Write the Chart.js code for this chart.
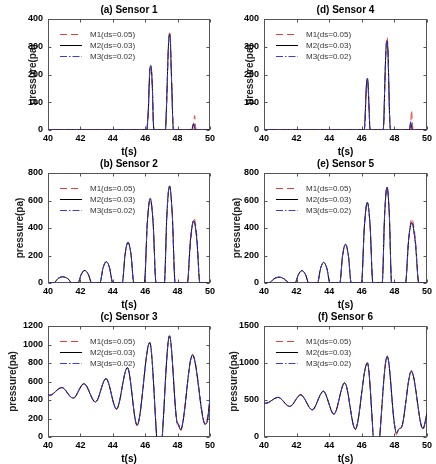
<!DOCTYPE html>
<html>
<head>
<meta charset="utf-8">
<script src="https://cdn.jsdelivr.net/npm/chart.js@4.4.1/dist/chart.umd.min.js"></script>
<style>
  body { margin: 0; background: #fff; }
  #wrap { position: relative; width: 436px; height: 464px; overflow: hidden; background: #fff; }
  canvas { position: absolute; }
</style>
</head>
<body>
<div id="wrap"></div>
<script>
// (a) Sensor 1
const tA = [40, 46.1, 46.15, 46.2, 46.25, 46.3, 46.35, 46.4, 46.45, 46.5, 46.55, 47.25, 47.3, 47.35, 47.4, 47.45, 47.5, 47.55, 47.6, 47.65, 47.7, 47.75, 48.85, 48.9, 48.95, 49.0, 49.05, 49.1, 49.15, 50];
const aM1 = [0, 0, 20, 70, 160, 218, 228, 210, 150, 40, 0, 0, 50, 130, 240, 315, 350, 335, 240, 150, 50, 0, 0, 0, 8, 25, 52, 20, 0, 0];
const aM2 = [0, 0, 30, 80, 170, 225, 232, 205, 140, 30, 0, 0, 60, 150, 250, 320, 345, 330, 230, 140, 40, 0, 0, 5, 18, 22, 10, 0, 0, 0];
const aM3 = [0, 0, 35, 85, 175, 228, 230, 200, 135, 25, 0, 0, 65, 155, 255, 325, 343, 325, 225, 135, 35, 0, 0, 6, 20, 22, 8, 0, 0, 0];

// (b) Sensor 2
const tB = [40, 40.35, 40.62, 40.9, 41.22, 41.5, 41.85, 42.06, 42.27, 42.48, 42.7, 43.2, 43.4, 43.6, 43.8, 44.0, 44.58, 44.76, 44.94, 45.12, 45.3, 45.95, 46.13, 46.31, 46.49, 46.67, 47.18, 47.34, 47.5, 47.67, 47.85, 48.6, 48.8, 49.0, 49.19, 49.38, 50];
const bM1 = [0, 0, 32, 45, 32, 0, 0, 62, 90, 66, 0, 0, 108, 155, 112, 0, 0, 205, 295, 214, 0, 0, 430, 612, 440, 0, 0, 495, 708, 505, 0, 0, 290, 472, 345, 0, 0];
const bM2 = [0, 0, 32, 45, 32, 0, 0, 65, 92, 65, 0, 0, 110, 155, 110, 0, 0, 210, 296, 210, 0, 0, 435, 615, 435, 0, 0, 500, 706, 500, 0, 0, 322, 452, 312, 0, 0];
const bM3 = [0, 0, 33, 46, 31, 0, 0, 66, 93, 64, 0, 0, 111, 156, 109, 0, 0, 212, 297, 208, 0, 0, 438, 614, 432, 0, 0, 502, 705, 498, 0, 0, 325, 450, 308, 0, 0];

// (c) Sensor 3
const tC = [40, 40.1, 40.85, 41.55, 42.22, 42.93, 43.58, 44.23, 44.9, 45.5, 46.28, 46.88, 47.5, 47.95, 48.05, 48.18, 48.92, 49.6, 49.7, 49.8, 50];
const cM1 = [470, 455, 532, 415, 580, 372, 630, 298, 748, 122, 1018, -250, 1090, 160, 120, 65, 895, 190, 130, 165, 400];
const cM2 = [458, 450, 535, 420, 576, 378, 632, 303, 750, 128, 1022, -260, 1094, 175, 140, 78, 886, 175, 140, 150, 410];
const cM3 = [455, 448, 536, 421, 577, 379, 633, 304, 751, 130, 1024, -262, 1095, 178, 142, 80, 884, 172, 142, 148, 412];

// (d) Sensor 4
const tD = [40, 46.15, 46.2, 46.25, 46.3, 46.35, 46.4, 46.45, 46.5, 46.55, 47.3, 47.35, 47.4, 47.45, 47.5, 47.55, 47.6, 47.65, 47.7, 47.75, 47.8, 48.9, 48.95, 49.0, 49.05, 49.1, 49.15, 50];
const dM1 = [0, 0, 30, 110, 170, 182, 150, 80, 10, 0, 0, 20, 120, 230, 310, 335, 300, 190, 70, 10, 0, 0, 0, 20, 70, 30, 0, 0];
const dM2 = [0, 0, 40, 120, 175, 186, 145, 70, 5, 0, 0, 30, 140, 240, 305, 320, 290, 180, 60, 5, 0, 0, 8, 28, 15, 0, 0, 0];
const dM3 = [0, 0, 45, 125, 178, 184, 140, 65, 5, 0, 0, 35, 145, 245, 310, 318, 285, 175, 55, 5, 0, 0, 10, 30, 12, 0, 0, 0];

// (e) Sensor 5
const tE = [40, 40.3, 40.61, 40.92, 41.24, 41.55, 41.9, 42.12, 42.33, 42.54, 42.75, 43.28, 43.47, 43.66, 43.86, 44.05, 44.65, 44.82, 45.0, 45.18, 45.35, 45.98, 46.16, 46.34, 46.51, 46.68, 47.25, 47.4, 47.55, 47.69, 47.83, 48.68, 48.87, 49.06, 49.28, 49.5, 50];
const eM1 = [0, 0, 30, 42, 30, 0, 0, 62, 90, 64, 0, 0, 104, 150, 106, 0, 0, 196, 280, 200, 0, 0, 412, 586, 418, 0, 0, 490, 700, 495, 0, 0, 300, 468, 330, 0, 0];
const eM2 = [0, 0, 30, 42, 30, 0, 0, 64, 90, 63, 0, 0, 106, 150, 105, 0, 0, 199, 281, 197, 0, 0, 415, 587, 414, 0, 0, 494, 698, 490, 0, 0, 310, 440, 300, 0, 0];
const eM3 = [0, 0, 31, 43, 29, 0, 0, 65, 91, 62, 0, 0, 107, 151, 104, 0, 0, 201, 282, 195, 0, 0, 418, 585, 410, 0, 0, 496, 697, 488, 0, 0, 314, 438, 296, 0, 0];

// (f) Sensor 6
const tF = [40, 40.1, 40.86, 41.58, 42.25, 42.96, 43.64, 44.29, 44.95, 45.6, 46.34, 46.88, 47.56, 48.0, 48.12, 48.3, 48.42, 49.04, 49.75, 50];
const fM1 = [470, 458, 534, 410, 575, 365, 620, 305, 735, 100, 1005, -340, 1085, 160, 30, 110, 120, 900, 100, 320];
const fM2 = [462, 455, 536, 413, 569, 368, 618, 310, 732, 105, 1000, -350, 1091, 180, 55, 115, 125, 887, 113, 323];
const fM3 = [460, 453, 537, 414, 570, 369, 619, 311, 733, 107, 1002, -352, 1093, 183, 58, 113, 124, 885, 115, 326];

const seriesLabels = ['M1(ds=0.05)', 'M2(ds=0.03)', 'M3(ds=0.02)'];
const xTicks = [40, 42, 44, 46, 48, 50];

const FONT = '"Liberation Sans", Arial, sans-serif';

// titleX = centre of the rotated y label, measured from the canvas left
const panels = [
  { title: '(a) Sensor 1', t: tA, m: [aM1, aM2, aM3], ymax: 400, ystep: 100, left: 0, top: 0, h: 157, axisW: 48, padR: 6, titleX: 33 },
  { title: '(b) Sensor 2', t: tB, m: [bM1, bM2, bM3], ymax: 800, ystep: 200, left: 0, top: 154, h: 156, axisW: 48, padR: 6, titleX: 20 },
  { title: '(c) Sensor 3', t: tC, m: [cM1, cM2, cM3], ymax: 1200, ystep: 200, left: 0, top: 307, h: 157, axisW: 48, padR: 6, titleX: 13 },
  { title: '(d) Sensor 4', t: tD, m: [dM1, dM2, dM3], ymax: 400, ystep: 100, left: 218, top: 0, h: 157, axisW: 46, padR: 9, titleX: 32 },
  { title: '(e) Sensor 5', t: tE, m: [eM1, eM2, eM3], ymax: 800, ystep: 200, left: 218, top: 154, h: 156, axisW: 46, padR: 9, titleX: 19 },
  { title: '(f) Sensor 6', t: tF, m: [fM1, fM2, fM3], ymax: 1500, ystep: 500, left: 218, top: 307, h: 157, axisW: 46, padR: 9, titleX: 16 }
];

const styles = [
  { color: '#e63c3c', dash: [7, 4], order: 3 },
  { color: '#000000', dash: [], order: 2 },
  { color: '#3c3cdc', dash: [7, 2, 1.5, 2], order: 1 }
];

// box + inward ticks like matlab axes
const frame = {
  id: 'frame',
  beforeDatasetsDraw(chart) {
    const ctx = chart.ctx, a = chart.chartArea;
    const xs = chart.scales.x, ys = chart.scales.y;
    const L = Math.round(a.left) + 0.5, R = Math.round(a.right) - 0.5;
    const T = Math.round(a.top) + 0.5, B = Math.round(a.bottom) - 0.5;
    ctx.save();
    ctx.strokeStyle = '#555';
    ctx.lineWidth = 1;
    ctx.strokeRect(L, T, R - L, B - T);
    ctx.beginPath();
    xs.ticks.forEach(tk => {
      const x = Math.round(xs.getPixelForValue(tk.value)) + 0.5;
      ctx.moveTo(x, B); ctx.lineTo(x, B - 3);
      ctx.moveTo(x, T); ctx.lineTo(x, T + 3);
    });
    ys.ticks.forEach(tk => {
      const y = Math.round(ys.getPixelForValue(tk.value)) + 0.5;
      ctx.moveTo(L, y); ctx.lineTo(L + 3, y);
      ctx.moveTo(R, y); ctx.lineTo(R - 3, y);
    });
    ctx.stroke();
    ctx.restore();
  }
};

// legend inside the plot, top left
const innerLegend = {
  id: 'innerLegend',
  afterDatasetsDraw(chart) {
    const ctx = chart.ctx, a = chart.chartArea;
    const rows = [15, 26, 37];
    ctx.save();
    chart.data.datasets.forEach((ds, i) => {
      const y = Math.round(a.top + rows[i]) + 0.5;
      ctx.beginPath();
      ctx.setLineDash(ds.borderDash);
      ctx.strokeStyle = ds.borderColor;
      ctx.lineWidth = 1;
      ctx.moveTo(a.left + 12, y);
      ctx.lineTo(a.left + 34, y);
      ctx.stroke();
      ctx.setLineDash([]);
      ctx.fillStyle = '#333';
      ctx.font = '8px ' + FONT;
      ctx.textBaseline = 'middle';
      ctx.textAlign = 'left';
      ctx.fillText(ds.label, a.left + 42, y);
    });
    ctx.restore();
  }
};

const wrap = document.getElementById('wrap');

panels.forEach(p => {
  const canvas = document.createElement('canvas');
  canvas.width = 218;
  canvas.height = p.h;
  canvas.style.left = p.left + 'px';
  canvas.style.top = p.top + 'px';
  wrap.appendChild(canvas);

  const datasets = p.m.map((vals, i) => ({
    label: seriesLabels[i],
    data: p.t.map((t, k) => ({ x: t, y: vals[k] })),
    borderColor: styles[i].color,
    borderDash: styles[i].dash,
    borderWidth: 1,
    pointRadius: 0,
    fill: false,
    cubicInterpolationMode: 'monotone',
    order: styles[i].order
  }));

  new Chart(canvas.getContext('2d'), {
    type: 'line',
    data: { datasets: datasets },
    options: {
      responsive: false,
      animation: false,
      devicePixelRatio: 1,
      layout: { padding: { left: 0, right: p.padR, top: 0, bottom: 0 } },
      plugins: {
        legend: { display: false },
        tooltip: { enabled: false },
        title: {
          display: true,
          text: p.title,
          fullSize: false,
          color: '#000',
          font: { family: FONT, size: 10, weight: 'bold' },
          padding: { top: 4, bottom: 3 }
        }
      },
      scales: {
        x: {
          type: 'linear',
          min: 40,
          max: 50,
          afterBuildTicks: s => { s.ticks = xTicks.map(v => ({ value: v })); },
          afterFit: s => { s.height = 27; },
          grid: { display: false, drawTicks: false },
          border: { display: false },
          ticks: {
            color: '#000',
            padding: 3,
            maxRotation: 0,
            autoSkip: false,
            font: { family: FONT, size: 9, weight: 'bold' },
            callback: v => String(v)
          },
          title: {
            display: true,
            text: 't(s)',
            color: '#000',
            font: { family: FONT, size: 10, weight: 'bold', lineHeight: 1 },
            padding: { top: 0, bottom: 0 }
          }
        },
        y: {
          min: 0,
          max: p.ymax,
          afterFit: s => { s.width = p.axisW; },
          grid: { display: false, drawTicks: false },
          border: { display: false },
          ticks: {
            stepSize: p.ystep,
            color: '#000',
            padding: 5,
            font: { family: FONT, size: 9, weight: 'bold' },
            callback: v => String(v)
          },
          title: {
            display: true,
            text: 'pressure(pa)',
            color: '#222',
            font: { family: FONT, size: 10, weight: 'bold', lineHeight: 1 },
            padding: { top: p.titleX - 5, bottom: 0 }
          }
        }
      }
    },
    plugins: [frame, innerLegend]
  });
});
</script>
</body>
</html>
